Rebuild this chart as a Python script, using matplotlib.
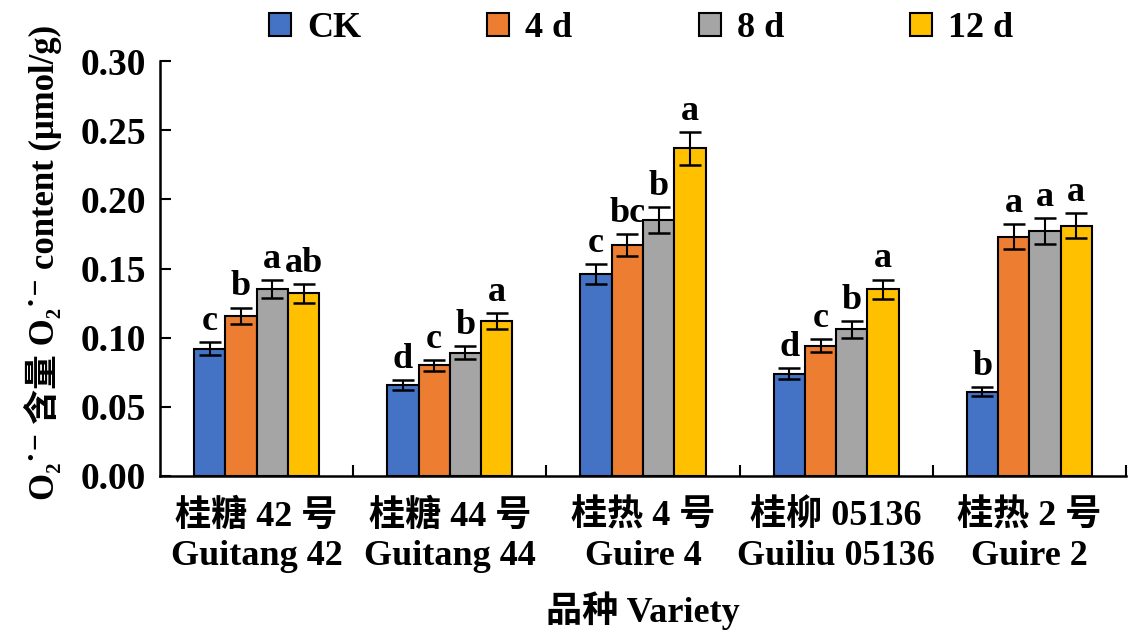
import numpy as np
import matplotlib
matplotlib.use('Agg')
import matplotlib.pyplot as plt

plt.rcParams['font.family'] = ['Liberation Serif', 'Noto Sans CJK SC', 'DejaVu Serif']

# data
varieties = ['桂糖 42 号\nGuitang 42', '桂糖 44 号\nGuitang 44', '桂热 4 号\nGuire 4',
             '桂柳 05136\nGuiliu 05136', '桂热 2 号\nGuire 2']
treatments = ['CK', '4 d', '8 d', '12 d']
colors = ['#4472C4', '#ED7D31', '#A5A5A5', '#FFC000']

ck      = [0.092, 0.066, 0.146, 0.074, 0.061]
d4      = [0.116, 0.080, 0.167, 0.094, 0.173]
d8      = [0.135, 0.089, 0.185, 0.106, 0.177]
d12     = [0.132, 0.112, 0.237, 0.135, 0.181]
ck_err  = [0.0048, 0.0036, 0.0075, 0.0041, 0.0031]
d4_err  = [0.0058, 0.0039, 0.0082, 0.0047, 0.0089]
d8_err  = [0.0064, 0.0047, 0.0095, 0.0060, 0.0094]
d12_err = [0.0069, 0.0055, 0.0120, 0.0070, 0.0092]

ck_sig  = ['c', 'd', 'c', 'd', 'b']
d4_sig  = ['b', 'c', 'bc', 'c', 'a']
d8_sig  = ['a', 'b', 'b', 'b', 'a']
d12_sig = ['ab', 'a', 'a', 'a', 'a']

values = [ck, d4, d8, d12]
errors = [ck_err, d4_err, d8_err, d12_err]
sigs = [ck_sig, d4_sig, d8_sig, d12_sig]

fig = plt.figure(figsize=(11.35, 6.44), dpi=100)
ax = fig.add_axes([0.141, 0.261, 0.851, 0.644])

x = np.arange(len(varieties))
w = 0.162
handles = []
for i in range(4):
    xi = x + (i - 1.5) * w
    b = ax.bar(xi, values[i], w, color=colors[i], edgecolor='black', linewidth=1.5,
               yerr=errors[i], error_kw=dict(ecolor='black', elinewidth=1.5, capsize=8, capthick=1.8),
               label=treatments[i], zorder=2)
    handles.append(b)
    for xx, v, e, s in zip(xi, values[i], errors[i], sigs[i]):
        ax.annotate(s, (xx, v + e), xytext=(0, 3), textcoords='offset points',
                    ha='center', va='bottom', fontsize=26, fontweight='bold')

ax.set_xlim(-0.5, 4.5)
ax.set_ylim(0, 0.30)
ax.set_yticks(np.arange(0, 0.31, 0.05))
ax.set_yticklabels([f'{v:.2f}' for v in np.arange(0, 0.31, 0.05)])
ax.set_xticks(x)
ax.set_xticklabels(varieties, linespacing=1.25)
ax.set_xticks(np.arange(0.5, 5, 1), minor=True)
ax.tick_params(axis='x', which='major', length=0, pad=17, labelsize=26)
ax.tick_params(axis='x', which='minor', direction='in', length=8, width=1.5)
ax.tick_params(axis='y', direction='in', length=8, width=1.5, labelsize=27, pad=10)
for lab in ax.get_xticklabels() + ax.get_yticklabels():
    lab.set_fontweight('bold')

for sp in ['top', 'right']:
    ax.spines[sp].set_visible(False)
for sp in ['left', 'bottom']:
    ax.spines[sp].set_linewidth(1.8)

ax.set_xlabel('品种 Variety', fontsize=26, fontweight='bold', labelpad=13)
ax.set_ylabel('O₂˙⁻ 含量 O₂˙⁻ content (μmol/g)', fontsize=25, fontweight='bold')
ax.yaxis.set_label_coords(-0.102, 0.515)

fig.legend(handles=handles, labels=treatments, loc='center', bbox_to_anchor=(0.565, 0.955),
           ncol=4, frameon=False, prop=dict(size=26, weight='bold'),
           handlelength=0.6, handleheight=0.6, handletextpad=0.45, columnspacing=3.5)

plt.savefig('out.png', dpi=100)
